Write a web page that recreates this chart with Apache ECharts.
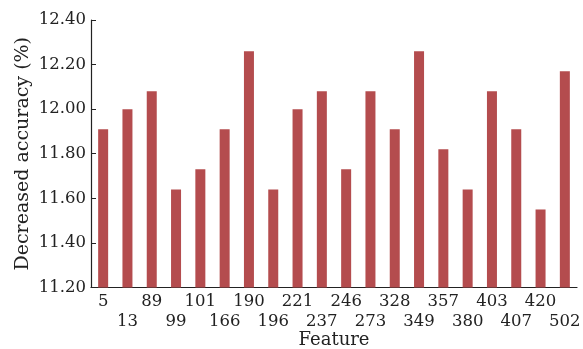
<!DOCTYPE html>
<html>
<head>
<meta charset="utf-8">
<script src="https://cdn.jsdelivr.net/npm/echarts@6/dist/echarts.min.js"></script>
<style>html,body{margin:0;padding:0;background:#fff}#c{width:583px;height:349px}</style>
</head>
<body>
<div id="c"></div>
<script>
const categories = ['5','13','89','99','101','166','190','196','221','237','246','273','328','349','357','380','403','407','420','502'];
const values = [11.91,12.00,12.08,11.64,11.73,11.91,12.26,11.64,12.00,12.08,11.73,12.08,11.91,12.26,11.82,11.64,12.08,11.91,11.55,12.17];
const yTicks = [11.20,11.40,11.60,11.80,12.00,12.20,12.40];

const font = 'DejaVu Serif';
const chart = echarts.init(document.getElementById('c'));
chart.setOption({
  animation: false,
  grid: {left: 91, right: 6, top: 20, bottom: 61.5, containLabel: false, outerBoundsMode: 'none'},
  xAxis: {
    type: 'category',
    data: categories,
    name: 'Feature',
    nameLocation: 'middle',
    nameGap: 43.5,
    nameMoveOverlap: false,
    nameTextStyle: {fontFamily: font, fontSize: 18, color: '#222'},
    axisLine: {lineStyle: {color: '#222', width: 1.2}},
    axisTick: {show: false},
    axisLabel: {
      interval: 0,
      fontFamily: font, fontSize: 16.5, color: '#222', margin: 4, lineHeight: 20,
      formatter: (v, i) => (i % 2 === 1 ? '\n' + v : v + '\n')
    }
  },
  yAxis: {
    type: 'value',
    min: yTicks[0], max: yTicks[yTicks.length - 1], interval: 0.2,
    name: 'Decreased accuracy (%)',
    nameLocation: 'middle',
    nameGap: 58,
    nameMoveOverlap: false,
    nameTextStyle: {fontFamily: font, fontSize: 19, color: '#222'},
    axisLine: {show: true, lineStyle: {color: '#222', width: 1.2}},
    axisTick: {show: true, inside: true, length: 5, lineStyle: {color: '#222'}},
    splitLine: {show: false},
    axisLabel: {fontFamily: font, fontSize: 16.5, color: '#222', margin: 5,
      formatter: v => v.toFixed(2)}
  },
  series: [{
    type: 'bar',
    data: values,
    barWidth: 10,
    itemStyle: {color: '#b44c4e'}
  }]
});
</script>
</body>
</html>
